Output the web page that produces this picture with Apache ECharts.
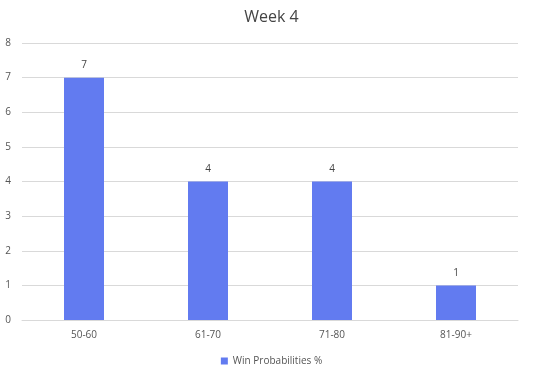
<!DOCTYPE html>
<html>
<head>
<meta charset="utf-8">
<script src="https://cdn.jsdelivr.net/npm/echarts@6/dist/echarts.min.js"></script>
<style>
  html, body { margin: 0; padding: 0; background: #fff; }
  #chart { width: 543px; height: 375px; }
</style>
</head>
<body>
<div id="chart"></div>
<script>
const categories = ["50-60", "61-70", "71-80", "81-90+"];
const winCounts = [7, 4, 4, 1];
const seriesName = "Win Probabilities %";

const chart = echarts.init(document.getElementById("chart"));
const option = {
  animation: false,
  title: {
    text: "Week 4",
    left: "center",
    top: 4,
    textStyle: { fontFamily: "Open Sans", fontWeight: "normal", fontSize: 16, color: "#444" },
  },
  legend: {
    bottom: 4,
    itemWidth: 7,
    itemHeight: 7,
    itemGap: 4,
    icon: "rect",
    textStyle: { fontFamily: "Open Sans", fontSize: 10, color: "#555" },
    data: [seriesName],
  },
  grid: { left: 22, right: 25, top: 43, bottom: 55 },
  xAxis: {
    type: "category",
    data: categories,
    axisLine: { lineStyle: { color: "#d9d9d9" } },
    axisTick: { show: false },
    axisLabel: { color: "#555", fontFamily: "Open Sans", fontSize: 10, margin: 10 },
  },
  yAxis: {
    type: "value",
    min: 0,
    max: 8,
    interval: 1,
    axisLine: { show: false },
    axisTick: { show: false },
    splitLine: { lineStyle: { color: "#d9d9d9" } },
    axisLabel: { color: "#555", fontFamily: "Open Sans", fontSize: 10, margin: 11 },
  },
  series: [
    {
      name: seriesName,
      type: "bar",
      data: winCounts,
      barWidth: 40,
      itemStyle: { color: "#627BF0" },
      label: {
        show: true,
        position: "top",
        distance: 7,
        color: "#444",
        fontFamily: "Open Sans",
        fontSize: 10,
      },
    },
  ],
};
chart.setOption(option);
</script>
</body>
</html>
